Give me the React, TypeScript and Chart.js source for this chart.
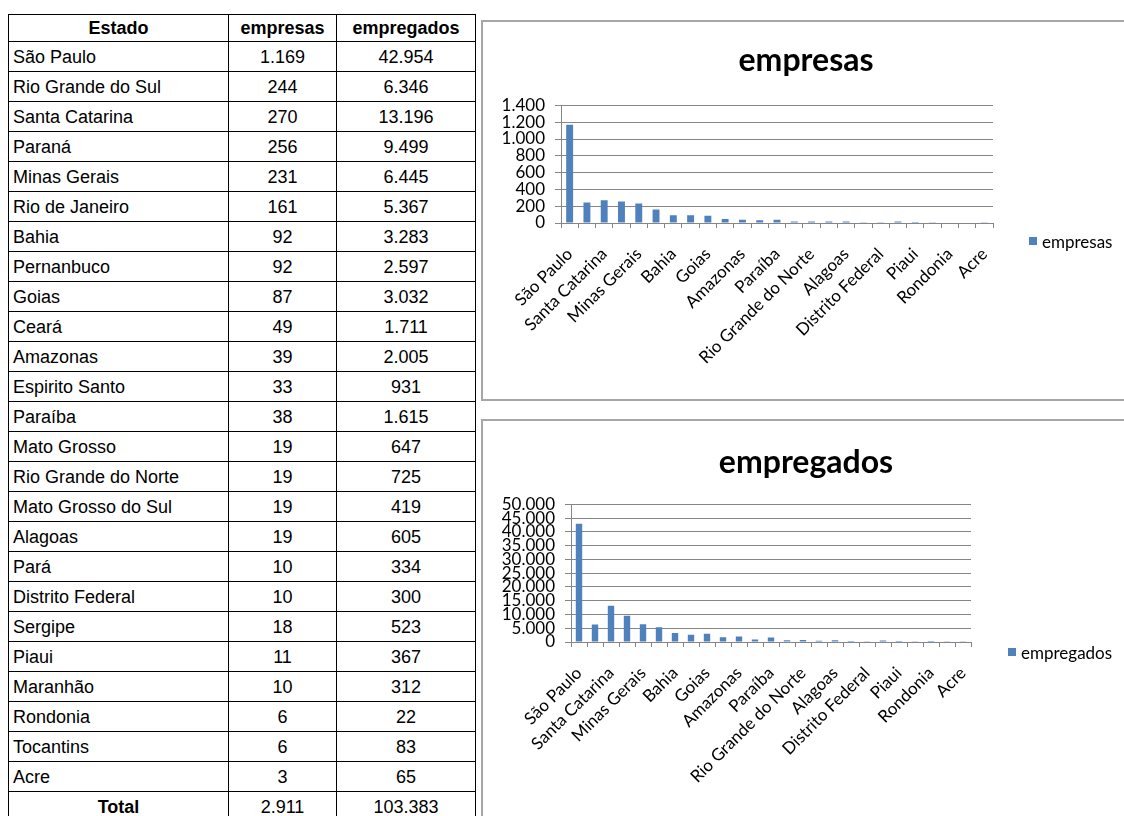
import React, { useEffect, useRef } from 'react';
import { Chart, registerables } from 'chart.js';

Chart.register(...registerables);

// ---- data ----
const states = [
  'São Paulo', 'Rio Grande do Sul', 'Santa Catarina', 'Paraná', 'Minas Gerais',
  'Rio de Janeiro', 'Bahia', 'Pernanbuco', 'Goias', 'Ceará', 'Amazonas',
  'Espirito Santo', 'Paraíba', 'Mato Grosso', 'Rio Grande do Norte',
  'Mato Grosso do Sul', 'Alagoas', 'Pará', 'Distrito Federal', 'Sergipe',
  'Piaui', 'Maranhão', 'Rondonia', 'Tocantins', 'Acre',
];
const empresas = [1169, 244, 270, 256, 231, 161, 92, 92, 87, 49, 39, 33, 38, 19, 19, 19, 19, 10, 10, 18, 11, 10, 6, 6, 3];
const empregados = [42954, 6346, 13196, 9499, 6445, 5367, 3283, 2597, 3032, 1711, 2005, 931, 1615, 647, 725, 419, 605, 334, 300, 523, 367, 312, 22, 83, 65];
const tableHeaders = ['Estado', 'empresas', 'empregados'];
const totalLabel = 'Total';
const empresasAxis = { max: 1400, step: 200 };
const empregadosAxis = { max: 50000, step: 5000 };

const fmt = (n: number) => String(Math.round(n)).replace(/\B(?=(\d{3})+(?!\d))/g, '.');
const sum = (a: number[]) => a.reduce((s, v) => s + v, 0);

const BLUE = '#4F81BD';
const GRID = '#868686';
const CHART_FONT = 'Lato, "Open Sans", sans-serif';

type Geo = {
  left: number; top: number; width: number; height: number;
  yWidth: number; padRight: number; xHeight: number;
  titleTop: number; titleBottom: number;
  legendX: number; legendY: number;
};

function BarChart({ title, labels, values, axis, geo }: {
  title: string; labels: string[]; values: number[];
  axis: { max: number; step: number }; geo: Geo;
}) {
  const ref = useRef<HTMLCanvasElement | null>(null);
  const cw = geo.width - 4;
  const ch = geo.height - 4;
  useEffect(() => {
    if (!ref.current) return;
    const chart = new Chart(ref.current, {
      type: 'bar',
      data: {
        labels,
        datasets: [{
          label: title,
          data: values,
          backgroundColor: BLUE,
          borderWidth: 0,
          barPercentage: 0.4,
          categoryPercentage: 1,
          yAxisID: 'y',
        }],
      },
      options: {
        animation: false,
        responsive: false,
        maintainAspectRatio: false,
        devicePixelRatio: 1,
        layout: { padding: 0 },
        plugins: {
          legend: { display: false },
          tooltip: { enabled: false },
          title: {
            display: true,
            text: title,
            color: '#000',
            font: { family: CHART_FONT, size: 32, weight: 'bold', lineHeight: 1.2 },
            padding: { top: geo.titleTop, bottom: geo.titleBottom },
          },
        },
        scales: {
          x: {
            grid: { display: true, drawOnChartArea: false, drawTicks: true, tickLength: 5, color: GRID, offset: true },
            border: { display: true, color: GRID },
            ticks: {
              autoSkip: false,
              minRotation: 45,
              maxRotation: 45,
              padding: 16,
              color: '#000',
              font: { family: CHART_FONT, size: 17 },
              callback: (_v: any, i: number) => (i % 2 === 0 ? labels[i] : ''),
            },
            afterFit: (s: any) => { s.height = geo.xHeight; },
          },
          y: {
            min: 0,
            max: axis.max,
            grid: { color: GRID, drawTicks: true, tickLength: 6 },
            border: { display: true, color: GRID },
            ticks: {
              stepSize: axis.step,
              autoSkip: false,
              padding: 10,
              color: '#000',
              font: { family: CHART_FONT, size: 17, lineHeight: 1 },
              callback: (v: any) => fmt(Number(v)),
            },
            afterFit: (s: any) => { s.width = geo.yWidth; },
          },
          // empty space on the right reserved for the legend
          legendSpace: {
            type: 'linear',
            position: 'right',
            display: true,
            grid: { display: false, drawTicks: false },
            border: { display: false },
            ticks: { display: false },
            afterFit: (s: any) => { s.width = geo.padRight; },
          },
        },
      } as any,
    });
    return () => chart.destroy();
  }, []);
  return (
    <>
      <div style={{
        position: 'absolute', left: geo.left, top: geo.top, width: geo.width, height: geo.height,
        boxSizing: 'border-box', border: '2px solid #a6a6a6', background: '#fff',
      }}>
        <canvas ref={ref} width={cw} height={ch} style={{ display: 'block', width: cw, height: ch }} />
      </div>
      <div style={{
        position: 'absolute', left: geo.legendX, top: geo.legendY - 10, height: 20,
        display: 'flex', alignItems: 'center', fontFamily: CHART_FONT, fontSize: 17, color: '#000', whiteSpace: 'nowrap',
      }}>
        <span style={{ display: 'inline-block', width: 8, height: 8, background: BLUE, marginRight: 5 }} />
        <span>{title}</span>
      </div>
    </>
  );
}

const cell: React.CSSProperties = {
  border: '1px solid #000', padding: 0, height: 29, lineHeight: '20px', whiteSpace: 'nowrap', overflow: 'hidden',
};

export default function App() {
  return (
    <div style={{ position: 'fixed', left: 0, top: 0, width: 1124, height: 816, overflow: 'hidden', background: '#fff' }}>
      <table style={{
        position: 'absolute', left: 8, top: 14, borderCollapse: 'collapse', tableLayout: 'fixed', width: 467,
        fontFamily: '"Liberation Sans", Arial, sans-serif', fontSize: 18, color: '#000',
      }}>
        <colgroup>
          <col style={{ width: 220 }} />
          <col style={{ width: 108 }} />
          <col style={{ width: 139 }} />
        </colgroup>
        <tbody>
          <tr>
            {tableHeaders.map((h) => (
              <td key={h} style={{ ...cell, height: 26, fontWeight: 'bold', textAlign: 'center' }}>{h}</td>
            ))}
          </tr>
          {states.map((s, i) => (
            <tr key={s}>
              <td style={{ ...cell, paddingLeft: 4 }}>{s}</td>
              <td style={{ ...cell, textAlign: 'center' }}>{fmt(empresas[i])}</td>
              <td style={{ ...cell, textAlign: 'center' }}>{fmt(empregados[i])}</td>
            </tr>
          ))}
          <tr>
            <td style={{ ...cell, fontWeight: 'bold', textAlign: 'center' }}>{totalLabel}</td>
            <td style={{ ...cell, textAlign: 'center' }}>{fmt(sum(empresas))}</td>
            <td style={{ ...cell, textAlign: 'center' }}>{fmt(sum(empregados))}</td>
          </tr>
        </tbody>
      </table>
      <BarChart
        title="empresas"
        labels={states}
        values={empresas}
        axis={empresasAxis}
        geo={{
          left: 481, top: 20, width: 650, height: 381,
          yWidth: 78, padRight: 136, xHeight: 176,
          titleTop: 19, titleBottom: 26,
          legendX: 1029, legendY: 241,
        }}
      />
      <BarChart
        title="empregados"
        labels={states}
        values={empregados}
        axis={empregadosAxis}
        geo={{
          left: 481, top: 419, width: 650, height: 404,
          yWidth: 88, padRight: 158, xHeight: 179,
          titleTop: 22, titleBottom: 23,
          legendX: 1008, legendY: 652,
        }}
      />
    </div>
  );
}
